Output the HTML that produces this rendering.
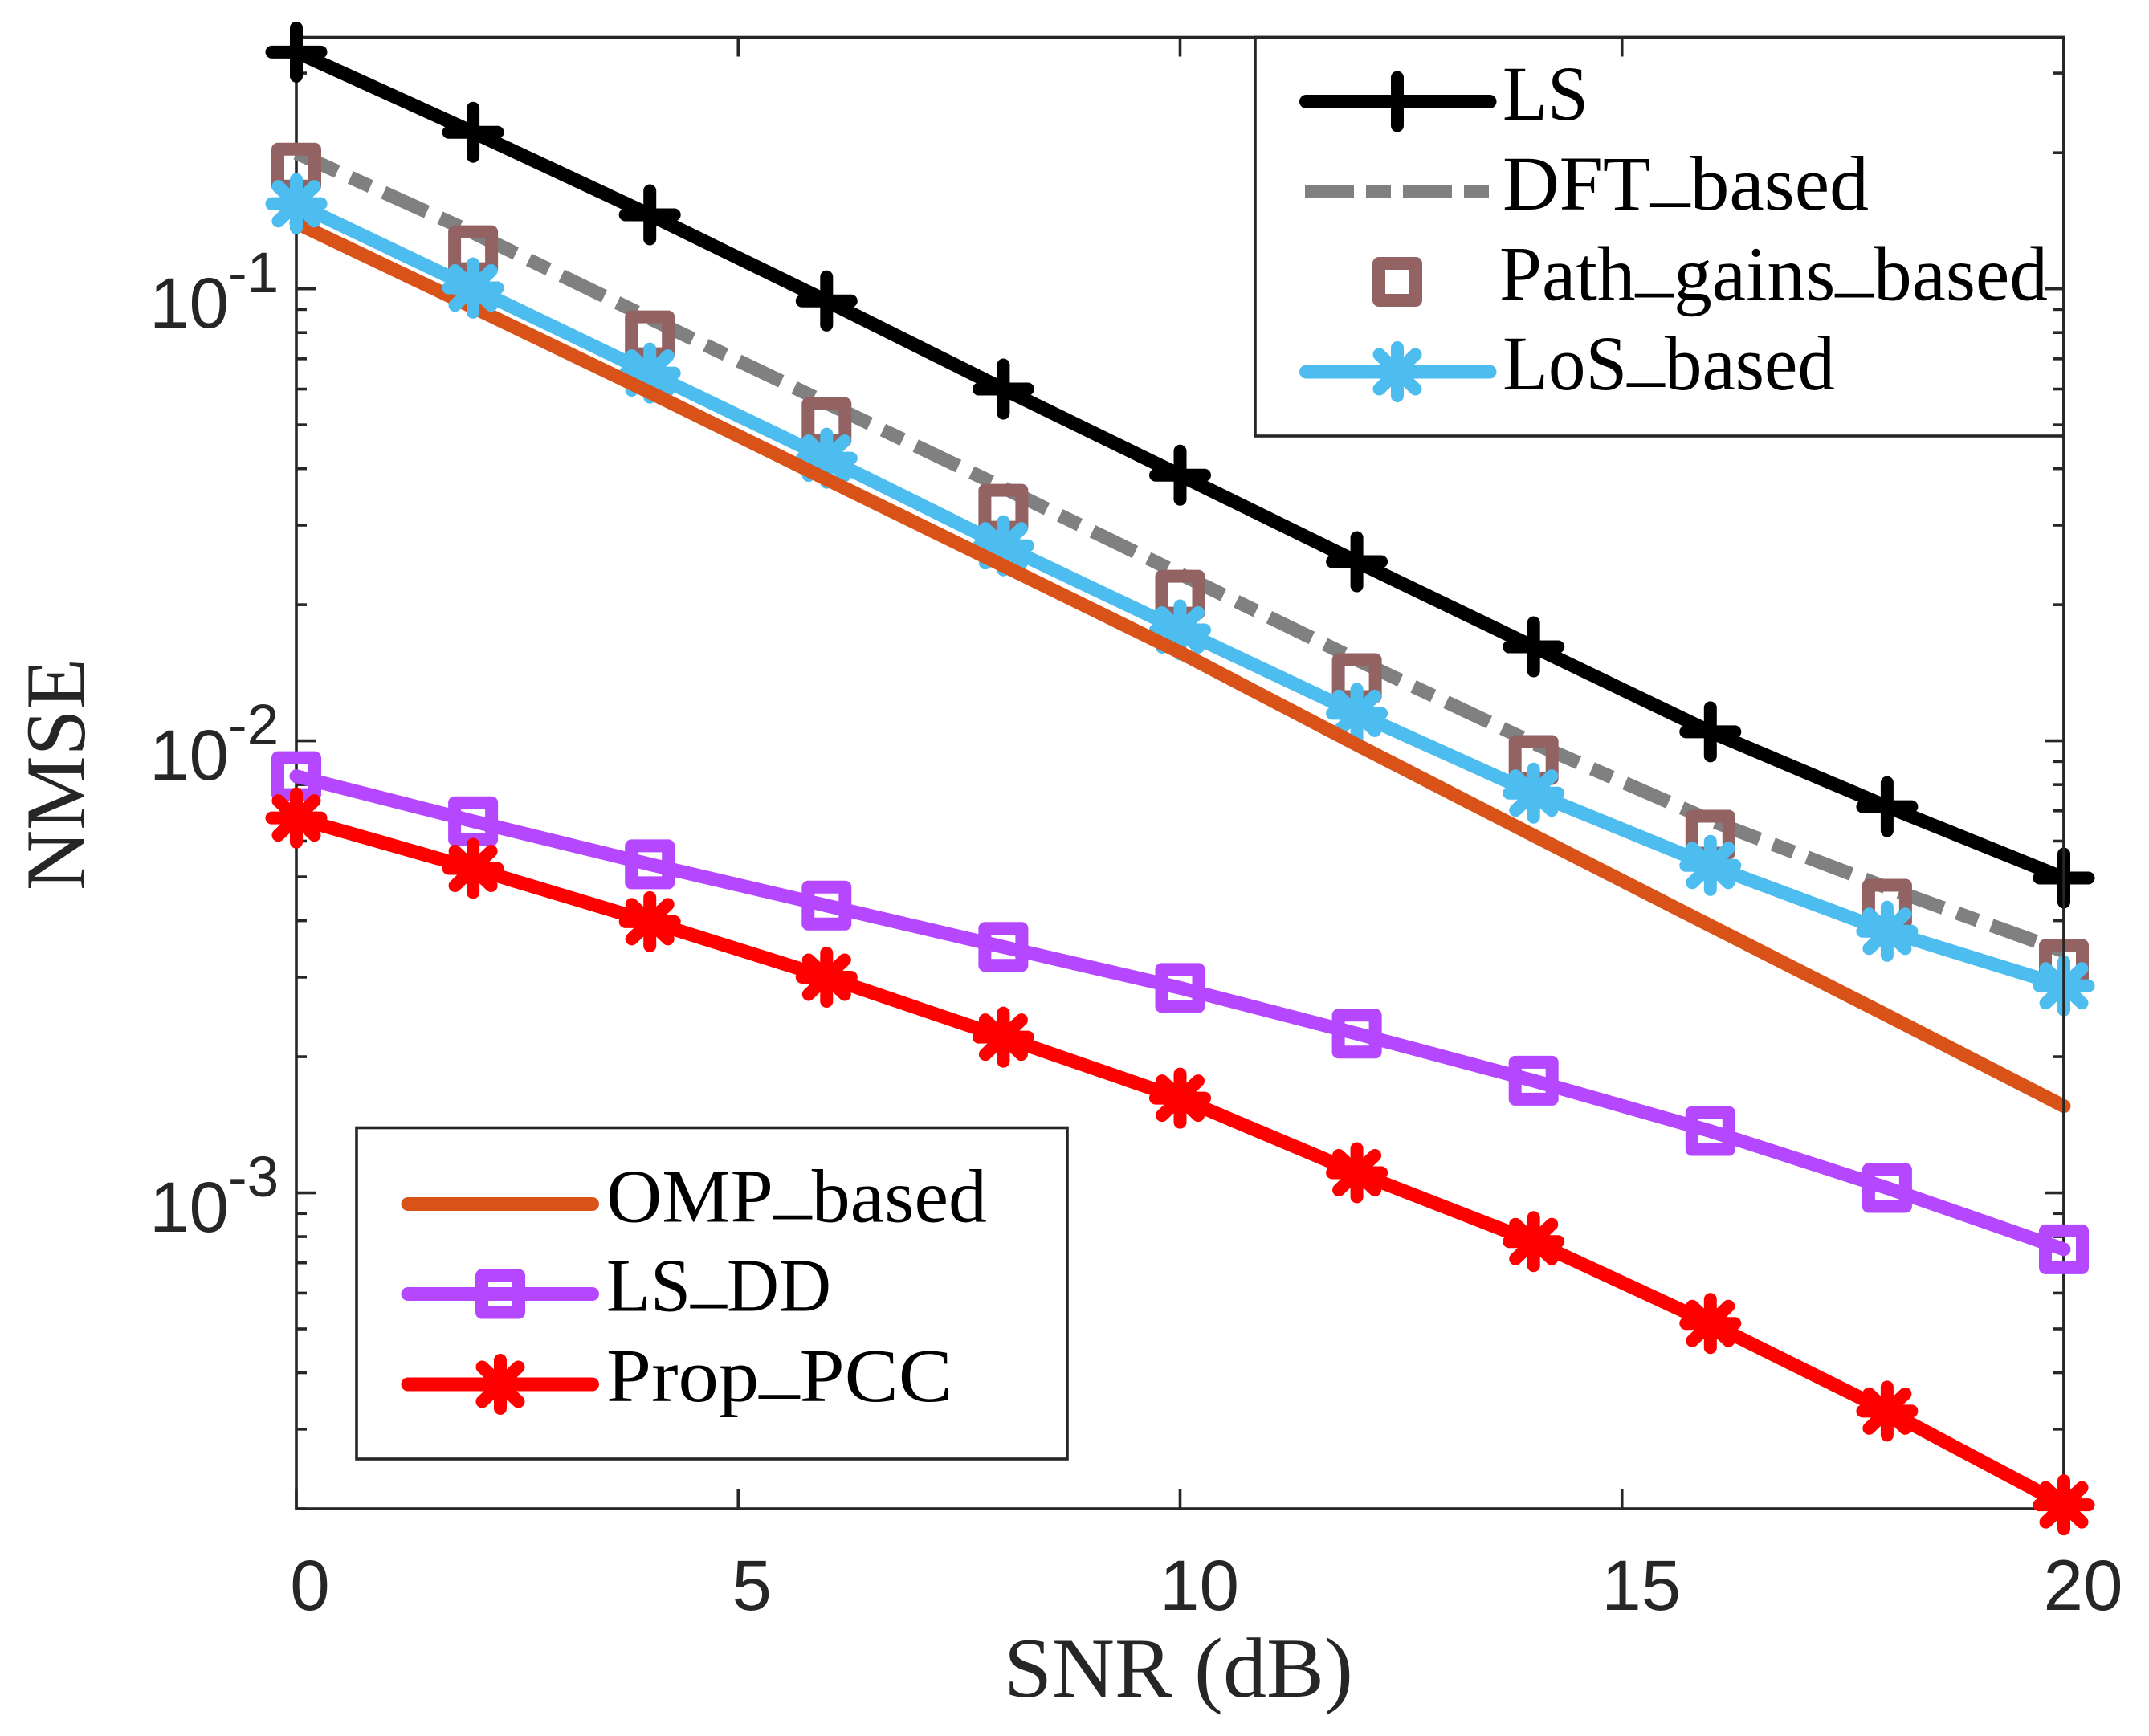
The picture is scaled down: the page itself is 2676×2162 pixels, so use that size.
<!DOCTYPE html>
<html lang="en">
<head>
<meta charset="utf-8">
<title>NMSE versus SNR</title>
<style>
html,body{margin:0;padding:0;background:#fff;}
svg{display:block;}
.tick-label{font-family:"Liberation Sans",sans-serif;fill:#262626;}
.math{font-family:"Liberation Serif",serif;}
</style>
</head>
<body>
<svg id="chart" xmlns="http://www.w3.org/2000/svg" width="2676" height="2162" viewBox="0 0 2676 2162">
  <rect x="0" y="0" width="2676" height="2162" fill="#fff"/>
  <g id="axes"></g>
  <g id="series"></g>
  <g id="legend-top"></g>
  <g id="legend-bottom"></g>
  <text class="math" x="1250" y="2113" font-size="106" fill="#262626" textLength="435" lengthAdjust="spacingAndGlyphs">SNR (dB)</text>
  <text class="math" transform="translate(105,1109) rotate(-90)" x="0" y="0" font-size="106" fill="#262626" textLength="289" lengthAdjust="spacingAndGlyphs">NMSE</text>
</svg>
<script>
// Chart data
const snrDb = [0, 2, 4, 6, 8, 10, 12, 14, 16, 18, 20];
const lsValues = [0.334, 0.222, 0.1458, 0.094, 0.060, 0.0387, 0.0249, 0.01614, 0.01047, 0.00715, 0.00497];
const dftValues = [0.1997, 0.1331, 0.0860, 0.0559, 0.0363, 0.0234, 0.01511, 0.00988, 0.00667, 0.00473, 0.00342];
const pathGainsValues = [0.1854, 0.1217, 0.0789, 0.0507, 0.0326, 0.02105, 0.01376, 0.00907, 0.0062, 0.00436, 0.00321];
const losValues = [0.1542, 0.1004, 0.0651, 0.0422, 0.0270, 0.01759, 0.0115, 0.00766, 0.0053, 0.00379, 0.00287];
const ompValues = [0.1398, 0.0910, 0.0590, 0.0379, 0.0244, 0.01569, 0.0098, 0.00617, 0.0039, 0.00247, 0.001555];
const lsDdValues = [0.00835, 0.00664, 0.00533, 0.00432, 0.0035, 0.00284, 0.00225, 0.00177, 0.00137, 0.001025, 0.00075];
const propPccValues = [0.00675, 0.00522, 0.00398, 0.00300, 0.00221, 0.00162, 0.001108, 0.00078, 0.000514, 0.000329, 0.000204];
const xTickValues = [0, 5, 10, 15, 20];
const xTickLabels = ['0', '5', '10', '15', '20'];
const yDecadeExponents = [-1, -2, -3];
const yDecadeLabels = ['-1', '-2', '-3'];
const yMinorMantissas = [2, 3, 4, 5, 6, 7, 8, 9];
const xDomain = [0, 20];
const yDomain = [0.00020, 0.36];

const plotLeft = 369, plotRight = 2570, plotTop = 46.5, plotBottom = 1879;
const axisColor = '#262626';
const lineW = 17;

function xScale(v) { return plotLeft + (v - xDomain[0]) / (xDomain[1] - xDomain[0]) * (plotRight - plotLeft); }
function yScale(v) {
  const a = Math.log10(yDomain[0]), b = Math.log10(yDomain[1]);
  return plotBottom - (Math.log10(v) - a) / (b - a) * (plotBottom - plotTop);
}

const NS = 'http://www.w3.org/2000/svg';
function mk(tag, parent, attrs) {
  const el = document.createElementNS(NS, tag);
  for (const k in attrs) el.setAttribute(k, attrs[k]);
  parent.appendChild(el);
  return el;
}

const axes = document.getElementById('axes');
const seriesLayer = document.getElementById('series');
const legendTop = document.getElementById('legend-top');
const legendBottom = document.getElementById('legend-bottom');

function seg(parent, x1, y1, x2, y2, w, c, cap) {
  return mk('line', parent, {x1: x1, y1: y1, x2: x2, y2: y2, stroke: c, 'stroke-width': w, 'stroke-linecap': cap || 'butt'});
}

// Axes frame
const frame = mk('rect', axes, {x: plotLeft, y: plotTop, width: plotRight - plotLeft, height: plotBottom - plotTop, fill: 'none', stroke: axisColor, 'stroke-width': 3.6});



// X ticks
xTickValues.forEach(function (v, i) {
  const x = xScale(v);
  const tb = seg(axes, x, plotBottom, x, plotBottom - 24, 3.6, axisColor);
  
  
  const tt = seg(axes, x, plotTop, x, plotTop + 24, 3.6, axisColor);
  
  
  const offs = xTickLabels[i].length > 1 ? 24 : 17;
  const t = mk('text', axes, {x: x + offs, y: 2005, 'font-size': 89, 'text-anchor': 'middle', class: 'tick-label'});
  t.textContent = xTickLabels[i];
  
  
});

// Y ticks
yDecadeExponents.forEach(function (ex, i) {
  const base = Math.pow(10, ex);
  const y = yScale(base);
  const l = seg(axes, plotLeft, y, plotLeft + 24, y, 3.6, axisColor);
  
  
  const r = seg(axes, plotRight, y, plotRight - 24, y, 3.6, axisColor);
  
  
  const t = mk('text', axes, {x: 186, y: y + 48.5, 'font-size': 89, class: 'tick-label'});
  t.textContent = '10';
  
  
  const e = mk('text', axes, {x: 284, y: y + 4.5, 'font-size': 71, class: 'tick-label'});
  e.textContent = yDecadeLabels[i];
  
  
});
[-1, -2, -3, -4].forEach(function (ex) {
  yMinorMantissas.forEach(function (m) {
    const v = m * Math.pow(10, ex);
    if (v < yDomain[0] || v > yDomain[1]) return;
    const y = yScale(v);
    const l = seg(axes, plotLeft, y, plotLeft + 13, y, 3.6, axisColor);
    
    
    const r = seg(axes, plotRight, y, plotRight - 13, y, 3.6, axisColor);
    
    
  });
});

// Markers
function drawMarker(parent, kind, cx, cy, color) {
  const g = mk('g', parent, {stroke: color, 'stroke-width': 16, 'stroke-linecap': 'round', fill: 'none'});
  if (kind === 'plus' || kind === 'star') {
    mk('line', g, {x1: cx - 30.5, y1: cy, x2: cx + 30.5, y2: cy});
    mk('line', g, {x1: cx, y1: cy - 30, x2: cx, y2: cy + 30});
  }
  if (kind === 'star') {
    mk('line', g, {x1: cx - 22.5, y1: cy - 21.5, x2: cx + 22.5, y2: cy + 21.5});
    mk('line', g, {x1: cx - 22.5, y1: cy + 21.5, x2: cx + 22.5, y2: cy - 21.5});
  }
  if (kind === 'square') {
    g.setAttribute('stroke-linejoin', 'round');
    mk('rect', g, {x: cx - 23, y: cy - 23, width: 46, height: 46, 'stroke-linejoin': 'round'});
  }
  return g;
}

function drawLine(values, color, dash, dashOffset) {
  const pts = values.map(function (v, i) { return xScale(snrDb[i]).toFixed(1) + ',' + yScale(v).toFixed(1); }).join(' ');
  const attrs = {points: pts, fill: 'none', stroke: color, 'stroke-width': lineW, 'stroke-linejoin': 'round', 'stroke-linecap': dash ? 'butt' : 'round'};
  if (dash) { attrs['stroke-dasharray'] = dash; attrs['stroke-dashoffset'] = dashOffset; }
  return mk('polyline', seriesLayer, attrs);
}

const lsLine = drawLine(lsValues, '#000000');


lsValues.forEach(function (v, i) {
  const m = drawMarker(seriesLayer, 'plus', xScale(snrDb[i]), yScale(v), '#000000');
  
  
});

const dftLine = drawLine(dftValues, '#808080', '59 18 27.3 18', 3);



pathGainsValues.forEach(function (v, i) {
  const m = drawMarker(seriesLayer, 'square', xScale(snrDb[i]), yScale(v), '#936363');
  
  
});

const losLine = drawLine(losValues, '#4DBDEF');


losValues.forEach(function (v, i) {
  const m = drawMarker(seriesLayer, 'star', xScale(snrDb[i]), yScale(v), '#4DBDEF');
  
  
});

const ompLine = drawLine(ompValues, '#D95319');



// The first two LoS markers sit above the OMP line in the reference
losValues.slice(0, 2).forEach(function (v, i) {
  const m = drawMarker(seriesLayer, 'star', xScale(snrDb[i]), yScale(v), '#4DBDEF');
  
  
});

// Right spine overlays the earlier series in the reference
const rightSpine = seg(seriesLayer, plotRight, plotTop, plotRight, plotBottom, 3.6, axisColor);



const ddLine = drawLine(lsDdValues, '#B547FF');


lsDdValues.forEach(function (v, i) {
  const m = drawMarker(seriesLayer, 'square', xScale(snrDb[i]), yScale(v), '#B547FF');
  
  
});

const propLine = drawLine(propPccValues, '#FF0000');


propPccValues.forEach(function (v, i) {
  const m = drawMarker(seriesLayer, 'star', xScale(snrDb[i]), yScale(v), '#FF0000');
  
  
});

// Upper legend
const box1 = mk('rect', legendTop, {x: 1563, y: 46.5, width: 1007, height: 496.5, fill: 'none', stroke: axisColor, 'stroke-width': 3.6});



// Legend labels: the underscore is raised to sit on the baseline, as in the reference
function legendText(parent, s, x, y, len, size) {
  const t = mk('text', parent, {x: x, y: y, 'font-size': size, fill: '#000', class: 'math', textLength: len, lengthAdjust: 'spacingAndGlyphs'});
  const lift = size * 0.16;
  const parts = s.split('_');
  parts.forEach(function (p, i) {
    if (i > 0) {
      const u = mk('tspan', t, {dy: -lift});
      u.textContent = '_';
      const w = mk('tspan', t, {dy: lift});
      w.textContent = p;
    } else {
      t.appendChild(document.createTextNode(p));
    }
  });
  return t;
}
const l1a = seg(legendTop, 1626.5, 126.5, 1855, 126.5, 17, '#000', 'round');


const l1b = drawMarker(legendTop, 'plus', 1740, 126.5, '#000');


const l1c = legendText(legendTop, 'LS', 1871, 149, 107, 96);



const l2a = mk('line', legendTop, {x1: 1625, y1: 239, x2: 1855, y2: 239, stroke: '#808080', 'stroke-width': 16, 'stroke-dasharray': '61 15 31 15'});


const l2c = legendText(legendTop, 'DFT_based', 1871, 261, 456, 96);



const l3b = drawMarker(legendTop, 'square', 1740, 351, '#936363');


const l3c = legendText(legendTop, 'Path_gains_based', 1867, 373.5, 683, 96);



const l4a = seg(legendTop, 1626.5, 463, 1855, 463, 17, '#4DBDEF', 'round');


const l4b = drawMarker(legendTop, 'star', 1740, 463, '#4DBDEF');


const l4c = legendText(legendTop, 'LoS_based', 1871, 485, 414, 96);



// Lower legend
const box2 = mk('rect', legendBottom, {x: 444, y: 1404.5, width: 885, height: 412.5, fill: 'none', stroke: axisColor, 'stroke-width': 3.6});



const l5a = seg(legendBottom, 508, 1499.5, 737.5, 1499.5, 17, '#D95319', 'round');


const l5c = legendText(legendBottom, 'OMP_based', 755, 1521.5, 474, 94);



const l6a = seg(legendBottom, 508, 1611.5, 737.5, 1611.5, 17, '#B547FF', 'round');


const l6b = drawMarker(legendBottom, 'square', 623, 1611.5, '#B547FF');


const l6c = legendText(legendBottom, 'LS_DD', 755, 1632.5, 280, 94);



const l7a = seg(legendBottom, 508, 1724, 737.5, 1724, 17, '#FF0000', 'round');


const l7b = drawMarker(legendBottom, 'star', 623, 1724, '#FF0000');


const l7c = legendText(legendBottom, 'Prop_PCC', 755, 1745, 431, 94);


</script>
</body>
</html>
